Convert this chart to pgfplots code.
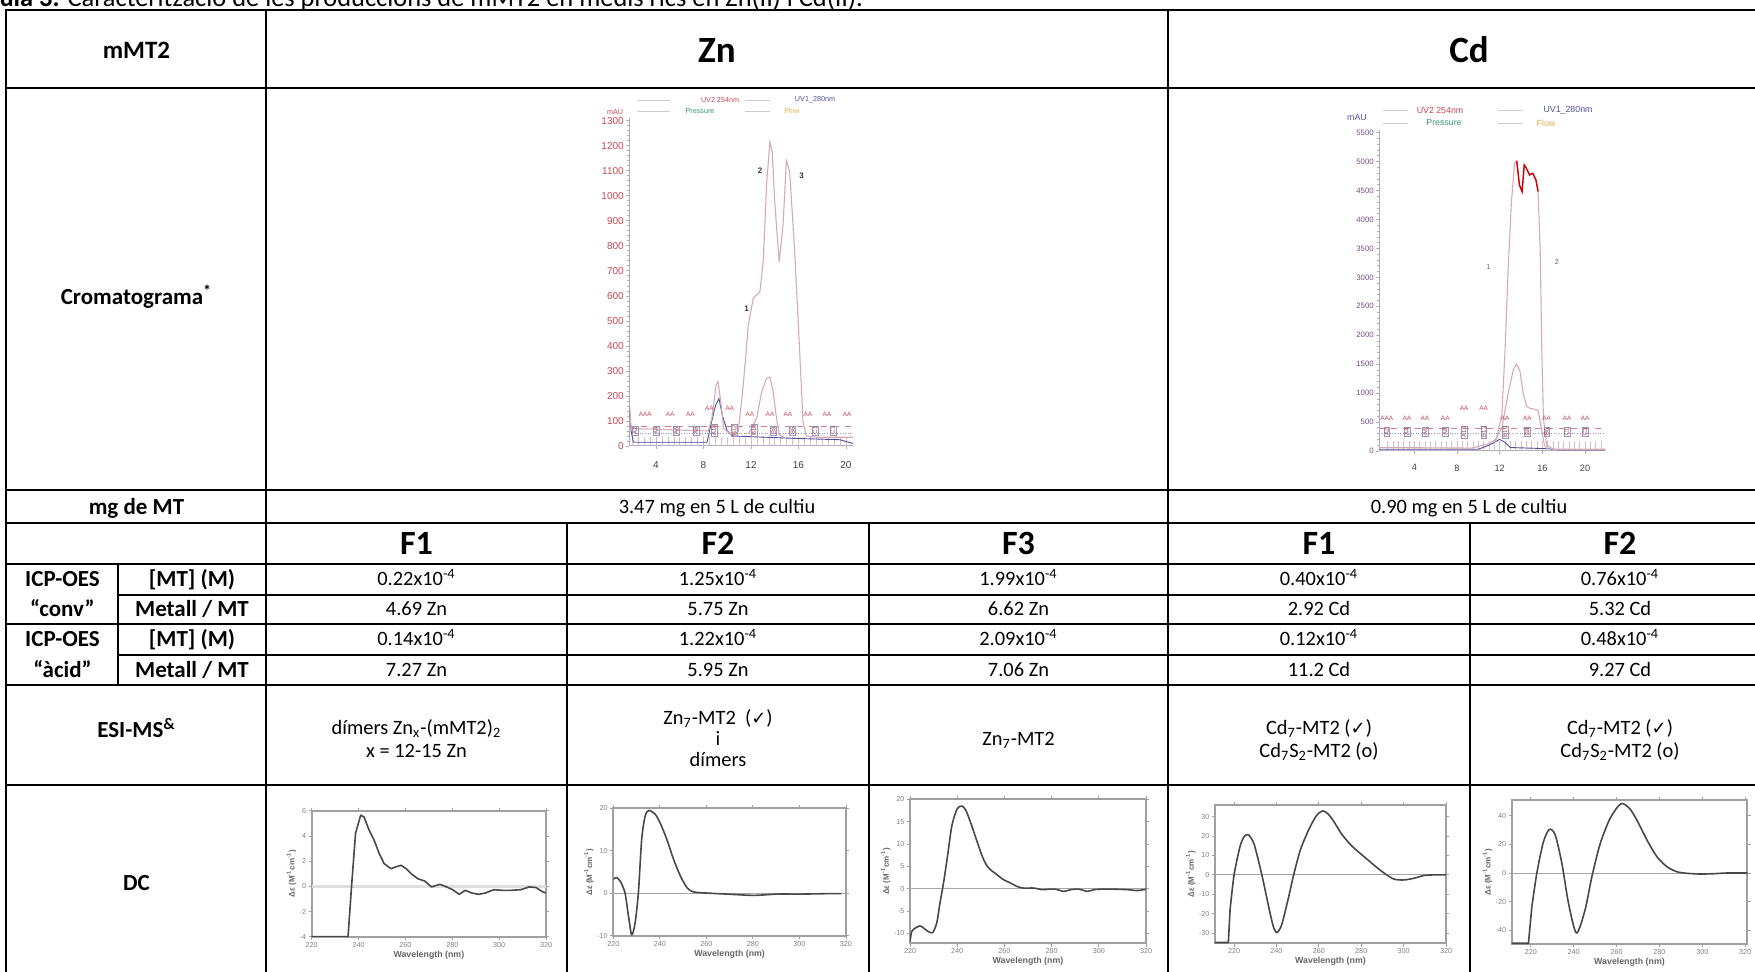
\documentclass[border=0pt]{standalone}
\usepackage{fontspec}
\setmainfont{Carlito}
\newfontfamily\arialf{Liberation Sans}
\newfontfamily\symf{DejaVu Sans}
\usepackage{pgfplots}
\pgfplotsset{compat=1.18}
\definecolor{cdline}{RGB}{72,72,72}
\definecolor{cdframe}{RGB}{160,160,160}
\definecolor{chromred}{RGB}{200,70,85}
\definecolor{chromblue}{RGB}{80,80,150}
\definecolor{chrompink}{RGB}{212,170,180}
\definecolor{chromgreen}{RGB}{60,150,120}
\definecolor{chromorange}{RGB}{225,175,80}
\definecolor{chromaxis}{RGB}{175,170,195}
\newcommand\fbody{\fontsize{10.2}{12}\selectfont}
\newcommand\fcap{\fontsize{13.2}{15}\selectfont}
\newcommand\flab{\bfseries\fontsize{11.5}{13.5}\selectfont}
\newcommand\fF{\bfseries\fontsize{17}{19}\selectfont}
\newcommand\fZ{\bfseries\fontsize{18.5}{21}\selectfont}
\newcommand\fmmt{\bfseries\fontsize{12.5}{15}\selectfont}
\newcommand\chk{{\symf\fontsize{9}{10}\selectfont ✓}}
\newcommand\ten[1]{#1x10\textsuperscript{-4}}
\pgfplotsset{
  cdax/.style={
    scale only axis, anchor=south west,
    axis line style={cdframe, line width=0.9pt},
    tick style={cdframe, line width=0.4pt},
    tick align=outside, major tick length=1.6pt,
    xtick={220,240,...,320},
    xticklabel style={font=\arialf\fontsize{3.6}{4}\selectfont, text=gray, inner sep=1pt},
    yticklabel style={font=\arialf\fontsize{3.6}{4}\selectfont, text=gray, inner sep=1pt},
    /pgf/number format/assume math mode=true,
    xlabel={Wavelength (nm)},
    xlabel style={font=\arialf\bfseries\fontsize{4.4}{5}\selectfont, text=gray!80!black, inner sep=0.5pt},
    ylabel={Δε (M\textsuperscript{-1}cm\textsuperscript{-1})},
    ylabel style={font=\arialf\bfseries\fontsize{4}{5}\selectfont, text=gray!80!black, inner sep=0.5pt},
  },
  cdcurve/.style={color=cdline, line width=0.8pt, line join=round},
  zeroline/.style={color=gray!70, line width=0.45pt},
  chrom/.style={
    scale only axis, anchor=south west,
    axis x line=bottom, axis y line=left,
    axis line style={-, color=chromaxis, line width=0.5pt},
    tick style={color=chromaxis, line width=0.35pt},
    tick align=outside, major tick length=1.6pt, minor tick length=1pt,
    xtick={4,8,...,20},
    /pgf/number format/assume math mode=true,
    /pgf/number format/set thousands separator={},
  },
  fraclab/.style={only marks, mark=none, nodes near coords, point meta=explicit symbolic,
    every node near coord/.append style={anchor=center, font=\arialf\fontsize{3.2}{3.5}\selectfont, text=chromred, inner sep=0.2pt}},
  fracbox/.style={only marks, mark=none, nodes near coords, point meta=explicit symbolic,
    every node near coord/.append style={anchor=center, rotate=90, draw=chromblue!60, line width=0.2pt, font=\arialf\fontsize{3}{3.3}\selectfont, text=chromred!80!black, inner sep=0.4pt}},
}
\begin{document}
\begin{tikzpicture}
\path[use as bounding box] (0pt,0pt) rectangle (877.5pt,-486pt);
\clip (0pt,0pt) rectangle (877.5pt,-486pt);
\begin{scope}[x=0.5pt,y=-0.5pt]
% caption (cut at the top)
\node[anchor=base west, inner sep=0pt, font=\fcap] at (-25,7) {\textbf{Taula 3.} Caracterització de les produccions de mMT2 en medis rics en Zn(II) i Cd(II).};
% table rules
\begin{scope}[line width=1.2pt, line cap=rect]
\draw (6,10) -- (1760,10);
\draw (6,88) -- (1760,88);
\draw (6,490) -- (1760,490);
\draw (6,523) -- (1760,523);
\draw (6,564) -- (1760,564);
\draw (6,624) -- (1760,624);
\draw (6,685) -- (1760,685);
\draw (6,785) -- (1760,785);
\draw (6,10) -- (6,980);
\draw (266,10) -- (266,980);
\draw (1168,10) -- (1168,980);
\draw (567,523) -- (567,980);
\draw (869,523) -- (869,980);
\draw (1470,523) -- (1470,980);
\draw (118,564) -- (118,685);
\end{scope}
\draw[line width=1pt] (118,595) -- (1760,595);
\draw[line width=1pt] (118,655) -- (1760,655);
% header
\node[anchor=mid, font=\fmmt] at (136.5,54) {mMT2};
\node[anchor=mid, font=\fZ] at (717,58) {Zn};
\node[anchor=mid, font=\fZ] at (1469,58) {Cd};
% labels
\node[anchor=mid, font=\flab] at (136.5,300) {Cromatograma\textsuperscript{*}};
\node[anchor=mid, font=\flab] at (136.5,510) {mg de MT};
\node[anchor=mid, font=\flab] at (62.5,582) {ICP-OES};
\node[anchor=mid, font=\flab] at (62.5,612) {“conv”};
\node[anchor=mid, font=\flab] at (62.5,642) {ICP-OES};
\node[anchor=mid, font=\flab] at (62.5,673) {“àcid”};
\node[anchor=mid, font=\flab] at (192,582) {[MT] (M)};
\node[anchor=mid, font=\flab] at (192,612) {Metall / MT};
\node[anchor=mid, font=\flab] at (192,642) {[MT] (M)};
\node[anchor=mid, font=\flab] at (192,673) {Metall / MT};
\node[anchor=mid, font=\flab] at (136.5,733) {ESI-MS\textsuperscript{\&}};
\node[anchor=mid, font=\flab] at (136.5,886) {DC};
% mg row
\node[anchor=mid, font=\fbody] at (717,509) {3.47 mg en 5 L de cultiu};
\node[anchor=mid, font=\fbody] at (1469,509) {0.90 mg en 5 L de cultiu};
% F row
\node[anchor=mid, font=\fF] at (416.5,550) {F1};
\node[anchor=mid, font=\fF] at (718,550) {F2};
\node[anchor=mid, font=\fF] at (1018.5,550) {F3};
\node[anchor=mid, font=\fF] at (1319,550) {F1};
\node[anchor=mid, font=\fF] at (1620,550) {F2};
% ICP conv
\node[anchor=mid, font=\fbody] at (416.5,581) {\ten{0.22}};
\node[anchor=mid, font=\fbody] at (718,581) {\ten{1.25}};
\node[anchor=mid, font=\fbody] at (1018.5,581) {\ten{1.99}};
\node[anchor=mid, font=\fbody] at (1319,581) {\ten{0.40}};
\node[anchor=mid, font=\fbody] at (1620,581) {\ten{0.76}};
\node[anchor=mid, font=\fbody] at (416.5,611) {4.69 Zn};
\node[anchor=mid, font=\fbody] at (718,611) {5.75 Zn};
\node[anchor=mid, font=\fbody] at (1018.5,611) {6.62 Zn};
\node[anchor=mid, font=\fbody] at (1319,611) {2.92 Cd};
\node[anchor=mid, font=\fbody] at (1620,611) {5.32 Cd};
% ICP acid
\node[anchor=mid, font=\fbody] at (416.5,641) {\ten{0.14}};
\node[anchor=mid, font=\fbody] at (718,641) {\ten{1.22}};
\node[anchor=mid, font=\fbody] at (1018.5,641) {\ten{2.09}};
\node[anchor=mid, font=\fbody] at (1319,641) {\ten{0.12}};
\node[anchor=mid, font=\fbody] at (1620,641) {\ten{0.48}};
\node[anchor=mid, font=\fbody] at (416.5,672) {7.27 Zn};
\node[anchor=mid, font=\fbody] at (718,672) {5.95 Zn};
\node[anchor=mid, font=\fbody] at (1018.5,672) {7.06 Zn};
\node[anchor=mid, font=\fbody] at (1319,672) {11.2 Cd};
\node[anchor=mid, font=\fbody] at (1620,672) {9.27 Cd};
% ESI-MS
\node[anchor=mid, font=\fbody] at (416.5,730) {dímers Zn\textsubscript{x}-(mMT2)\textsubscript{2}};
\node[anchor=mid, font=\fbody] at (416.5,753) {x = 12-15 Zn};
\node[anchor=mid, font=\fbody] at (718,720) {Zn\textsubscript{7}-MT2~~(\chk)};
\node[anchor=mid, font=\fbody] at (718,741) {i};
\node[anchor=mid, font=\fbody] at (718,762) {dímers};
\node[anchor=mid, font=\fbody] at (1018.5,741) {Zn\textsubscript{7}-MT2};
\node[anchor=mid, font=\fbody] at (1319,730) {Cd\textsubscript{7}-MT2 (\chk)};
\node[anchor=mid, font=\fbody] at (1319,753) {Cd\textsubscript{7}S\textsubscript{2}-MT2 (o)};
\node[anchor=mid, font=\fbody] at (1620,730) {Cd\textsubscript{7}-MT2 (\chk)};
\node[anchor=mid, font=\fbody] at (1620,753) {Cd\textsubscript{7}S\textsubscript{2}-MT2 (o)};
% chromatogram legends
\begin{scope}[font=\arialf\fontsize{3.6}{4}\selectfont]
\draw[gray!40, line width=0.4pt] (637,100) -- (670,100);
\node[text=chromred] at (720,100) {UV2 254nm};
\draw[gray!40, line width=0.4pt] (745,100) -- (770,100);
\node[text=chromblue] at (815,100) {UV1\_280nm};
\draw[gray!40, line width=0.4pt] (637,111) -- (670,111);
\node[text=chromgreen] at (700,111) {Pressure};
\draw[gray!40, line width=0.4pt] (745,111) -- (770,111);
\node[text=chromorange] at (792,111) {Flow};
\node[text=chromred] at (615,112) {mAU};
\end{scope}
\begin{scope}[font=\arialf\fontsize{4.4}{5}\selectfont]
\draw[gray!40, line width=0.4pt] (1383,110) -- (1408,110);
\node[text=chromred] at (1440,110) {UV2 254nm};
\draw[gray!40, line width=0.4pt] (1498,110) -- (1523,110);
\node[text=chromblue] at (1568,110) {UV1\_280nm};
\draw[gray!40, line width=0.4pt] (1383,123) -- (1408,123);
\node[text=chromgreen] at (1444,123) {Pressure};
\draw[gray!40, line width=0.4pt] (1498,123) -- (1523,123);
\node[text=chromorange] at (1546,123) {Flow};
\node[text=chromblue] at (1357,118) {mAU};
\end{scope}
\end{scope}

% ===== Zn chromatogram =====
\begin{axis}[chrom, at={(314.65pt,-223pt)}, width=111.9pt, height=163.9pt,
  xmin=1.75, xmax=20.6, ymin=0, ymax=1310,
  ytick={0,100,...,1300}, minor y tick num=4,
  xticklabel style={font=\arialf\fontsize{5}{6}\selectfont, text=black!75, inner sep=1.5pt, yshift=-4.5pt},
  yticklabel style={font=\arialf\fontsize{5}{6}\selectfont, text=chromred, inner sep=1pt}]
\addplot[ycomb, color=chrompink!80, line width=0.3pt] coordinates {(2,35)(2.5,35)(3,35)(3.5,35)(4,35)(4.5,35)(5,35)(5.5,35)(6,35)(6.5,35)(7,35)(7.5,35)(8,35)(8.5,35)(9,35)(9.5,35)(10,35)(10.5,35)(11,35)(11.5,35)(12,35)(12.5,35)(13,35)(13.5,35)(14,35)(14.5,35)(15,35)(15.5,35)(16,35)(16.5,35)(17,35)(17.5,35)(18,35)(18.5,35)(19,35)(19.5,35)(20,35)};
\addplot[color=chromred!70, dashed, line width=0.3pt] coordinates {(1.75,78) (20.6,78)};
\addplot[color=chromblue!60, densely dotted, line width=0.3pt] coordinates {(1.75,52) (20.6,52)};
\addplot[color=chromblue, line width=0.45pt] coordinates {(1.75,160) (1.9,60) (2.1,15) (8.3,15) (8.6,80) (9.0,160) (9.3,190) (9.6,120) (10.0,60) (10.5,40) (16,30) (19.5,25) (20.6,10)};
\addplot[color=chrompink, line width=0.55pt] coordinates {(1.75,180) (1.9,70) (8.4,60) (8.7,110) (9.06,244) (9.22,257) (9.42,190) (9.7,70) (10.2,50) (10.6,50) (10.93,57) (11.35,244) (11.77,483) (12.19,590) (12.75,617) (13.03,736) (13.31,1043) (13.59,1215) (13.79,1176) (14.0,976) (14.37,736) (14.7,883) (14.98,1140) (15.26,1096) (15.68,776) (16.1,377) (16.38,97) (16.66,40) (17.5,35) (20.6,35)};
\addplot[color=chrompink, line width=0.55pt] coordinates {(11.8,50) (12.47,110) (12.9,217) (13.3,270) (13.59,275) (13.87,217) (14.15,110) (14.4,44) (14.8,35)};
\addplot[fraclab] table[meta=l] {
x y l
3.1 125 AAA
5.2 125 AA
6.9 125 AA
8.5 152 AA
10.2 152 AA
11.9 125 AA
13.6 125 AA
15.1 125 AA
16.8 125 AA
18.4 125 AA
20.1 125 AA
};
\addplot[fracbox] table[meta=l] {
x y l
2.23 62 A2
4.0 62 A4
5.7 62 A6
7.35 62 A8
8.88 62 A10
10.6 62 B12
12.25 62 B10
13.9 62 B8
15.5 62 B6
17.4 62 C1
18.9 62 C3
};
\node[font=\arialf\bfseries\fontsize{4}{4}\selectfont, text=black!80] at (axis cs:11.62,550) {1};
\node[font=\arialf\bfseries\fontsize{4}{4}\selectfont, text=black!80] at (axis cs:12.76,1100) {2};
\node[font=\arialf\bfseries\fontsize{4}{4}\selectfont, text=black!80] at (axis cs:16.27,1080) {3};
\end{axis}

% ===== Cd chromatogram =====
\begin{axis}[chrom, at={(689.65pt,-225.5pt)}, width=113pt, height=160.6pt,
  xmin=0.72, xmax=21.9, ymin=0, ymax=5550,
  ytick={0,500,...,5500}, minor y tick num=4,
  xticklabel style={font=\arialf\fontsize{4.6}{5}\selectfont, text=black!75, inner sep=1.5pt, yshift=-3.5pt},
  yticklabel style={font=\arialf\fontsize{3.9}{5}\selectfont, text=chromblue!70!chromred, inner sep=1pt}]
\addplot[ycomb, color=chrompink!80, line width=0.3pt] coordinates {(1.5,170)(2,170)(2.5,170)(3,170)(3.5,170)(4,170)(4.5,170)(5,170)(5.5,170)(6,170)(6.5,170)(7,170)(7.5,170)(8,170)(8.5,170)(9,170)(9.5,170)(10,170)(10.5,170)(11,170)(11.5,170)(12,170)(12.5,170)(13,170)(13.5,170)(14,170)(14.5,170)(15,170)(15.5,170)(16,170)(16.5,170)(17,170)(17.5,170)(18,170)(18.5,170)(19,170)(19.5,170)(20,170)(20.5,170)(21,170)(21.5,170)};
\addplot[color=chromred!70, dashed, line width=0.3pt] coordinates {(0.72,390) (21.9,390)};
\addplot[color=chromblue!60, densely dotted, line width=0.3pt] coordinates {(0.72,300) (21.9,300)};
\addplot[color=chromblue, line width=0.45pt] coordinates {(0.72,30) (10,30) (11,100) (12,200) (12.5,150) (13,60) (16.5,40) (17.5,20) (21.9,20)};
\addplot[color=chrompink, line width=0.55pt] coordinates {(0.72,60) (9.4,50) (11.1,130) (11.7,220) (12.2,620) (12.5,1716) (12.8,3157) (13.1,4309) (13.4,4971) (13.6,5011) (13.85,4597) (14.1,4482) (14.3,4942) (14.5,4885) (14.8,4770) (15.1,4798) (15.4,4683) (15.6,4482) (15.8,3445) (15.95,1716) (16.1,565) (16.4,104) (17,30) (21.9,30)};
\addplot[color=red!80!black, line width=0.7pt] coordinates {(13.6,5011) (13.85,4597) (14.1,4482) (14.3,4942) (14.5,4885) (14.8,4770) (15.1,4798) (15.4,4683) (15.6,4482)};
\addplot[color=chrompink, line width=0.55pt] coordinates {(11.5,150) (12.2,400) (12.8,1000) (13.3,1420) (13.6,1500) (13.9,1380) (14.2,1000) (14.5,780) (14.8,740) (15.3,720) (15.6,700) (15.9,400) (16.2,100) (16.5,30)};
\addplot[fraclab] table[meta=l] {
x y l
1.42 570 AAA
3.3 570 AA
5.0 570 AA
6.9 570 AA
8.66 740 AA
10.5 740 AA
12.5 570 AA
14.6 570 AA
16.4 570 AA
18.3 570 AA
20.0 570 AA
};
\addplot[fracbox] table[meta=l] {
x y l
1.42 330 A2
3.3 330 A4
5.0 330 A6
6.9 330 A8
8.66 330 A10
10.5 330 B12
12.5 330 B10
14.6 330 B8
16.4 330 B6
18.3 330 C1
20.0 330 C3
};
\node[font=\arialf\fontsize{3.6}{4}\selectfont, text=black!60] at (axis cs:10.94,3185) {1};
\node[font=\arialf\fontsize{3.6}{4}\selectfont, text=black!60] at (axis cs:17.35,3272) {2};
\end{axis}

% ===== CD spectra =====
\begin{axis}[cdax, at={(155.85pt,-468.35pt)}, width=117.2pt, height=63pt,
  xmin=220, xmax=320, ymin=-4, ymax=6, ytick={-4,-2,...,6}]
\addplot[color=gray!25, line width=1.4pt] coordinates {(220,0) (320,0)};
\addplot[cdcurve] coordinates {(220,-4) (235.5,-4) (237,0) (238.7,4.2) (240.9,5.65) (242.3,5.5) (244.5,4.46) (246.6,3.67) (248.8,2.6) (250.9,1.8) (253.8,1.4) (256,1.55) (258.1,1.67) (260.3,1.4) (262.4,1.0) (265.3,0.6) (268.2,0.42) (271.1,-0.05) (274.7,0.16) (277.6,-0.05) (280.4,-0.3) (282.9,-0.64) (285.5,-0.32) (288.3,-0.53) (291.2,-0.64) (294.1,-0.53) (297.7,-0.27) (301.3,-0.32) (304.9,-0.32) (309.2,-0.27) (312.8,-0.05) (315.7,-0.1) (318.6,-0.45) (320,-0.53)};
\end{axis}

\begin{axis}[cdax, at={(306.65pt,-467.85pt)}, width=116.3pt, height=63.7pt,
  xmin=220, xmax=320, ymin=-10, ymax=20, ytick={-10,0,10,20}]
\addplot[zeroline] coordinates {(220,0) (320,0)};
\addplot[cdcurve, smooth, tension=0.45] coordinates {(220,3.3) (221.4,3.7) (223,2.8) (225,0.15) (226.5,-5.3) (227.9,-9.8) (229.4,-6.9) (230.8,0.2) (232.2,12.7) (233.7,18.2) (235.3,19.5) (238,18.6) (240.1,16.6) (243,12.7) (245.9,8) (248.8,4.1) (251.7,1.3) (254.5,0.3) (261.7,0) (268.9,-0.2) (280.4,-0.5) (290.5,-0.2) (300.6,-0.2) (312,-0.1) (318,-0.1)};
\end{axis}

\begin{axis}[cdax, at={(455pt,-471.65pt)}, width=118pt, height=72pt,
  xmin=220, xmax=320, ymin=-12.2, ymax=20, ytick={-10,-5,...,20}]
\addplot[zeroline] coordinates {(220,0) (320,0)};
\addplot[cdcurve, smooth, tension=0.45] coordinates {(220,-11.85) (220.7,-9.6) (222.1,-8.85) (224.2,-8.3) (225.9,-8.85) (227.8,-9.6) (229.6,-9.8) (231.3,-7.7) (232.7,-3.2) (234.2,1.3) (235.9,7.3) (237.7,14) (239.9,17.8) (242,18.5) (243.8,17.4) (246.2,14) (249.1,9.5) (251.2,6.5) (253.3,4.65) (256.8,3.15) (259.7,2) (262.5,1.3) (265.4,0.5) (268.2,0.15) (272.5,0.15) (276,-0.2) (278.9,-0.1) (281.7,-0.1) (285.2,-0.6) (288.1,-0.2) (291.6,-0.1) (295.2,-0.6) (298,-0.2) (300.8,-0.1) (306.5,-0.1) (312.1,-0.2) (316.4,-0.4) (320,-0.1)};
\end{axis}

\begin{axis}[cdax, at={(607.5pt,-471.65pt)}, width=115.5pt, height=69.2pt,
  xmin=211, xmax=320, ymin=-35.2, ymax=36, ytick={-30,-20,...,30}]
\addplot[zeroline] coordinates {(211,0) (320,0)};
\addplot[cdcurve] coordinates {(211.1,-34.8) (217.3,-34.8) (218.1,-18)};
\addplot[cdcurve, smooth, tension=0.45] coordinates {(218.1,-18) (220,0) (222.8,14.6) (224.8,19.8) (226.8,20.6) (229.5,15.6) (233.1,0) (236.3,-16.3) (238.5,-26.5) (240.2,-29.7) (242.5,-25.5) (245.8,-11.1) (248.1,0) (251.3,12.9) (255.2,23.2) (258.9,30.6) (261.9,32.9) (264.5,31.2) (267.1,27.4) (271,20.6) (275.8,14.6) (281.3,9.4) (286.8,4.3) (290.8,0.9) (295.5,-2.2) (300.3,-2.6) (305,-1.7) (309.7,-0.3) (314.5,0) (320,0)};
\end{axis}

\begin{axis}[cdax, at={(755.85pt,-472pt)}, width=117.8pt, height=72pt,
  xmin=211.1, xmax=321, ymin=-49.4, ymax=50.8, ytick={-40,-20,...,40}]
\addplot[zeroline] coordinates {(211.1,0) (321,0)};
\addplot[cdcurve] coordinates {(211.1,-48.9) (218.9,-48.9) (220.5,-23.4)};
\addplot[cdcurve, smooth, tension=0.45] coordinates {(220.5,-23.4) (222.8,-0.2) (225.9,21.8) (228.7,30.4) (231.4,26.4) (234.5,6.7) (237.6,-21.1) (241.3,-41.8) (245.3,-25.7) (248.5,-2.5) (252.4,20.6) (257,38) (262,48.2) (266,45) (269.5,36.8) (274.2,22.9) (278.8,11.4) (283.5,4.4) (288.1,0.9) (292.8,-0.2) (299,-0.7) (305.2,-0.5) (311.4,0) (321,0)};
\end{axis}
\end{tikzpicture}
\end{document}
